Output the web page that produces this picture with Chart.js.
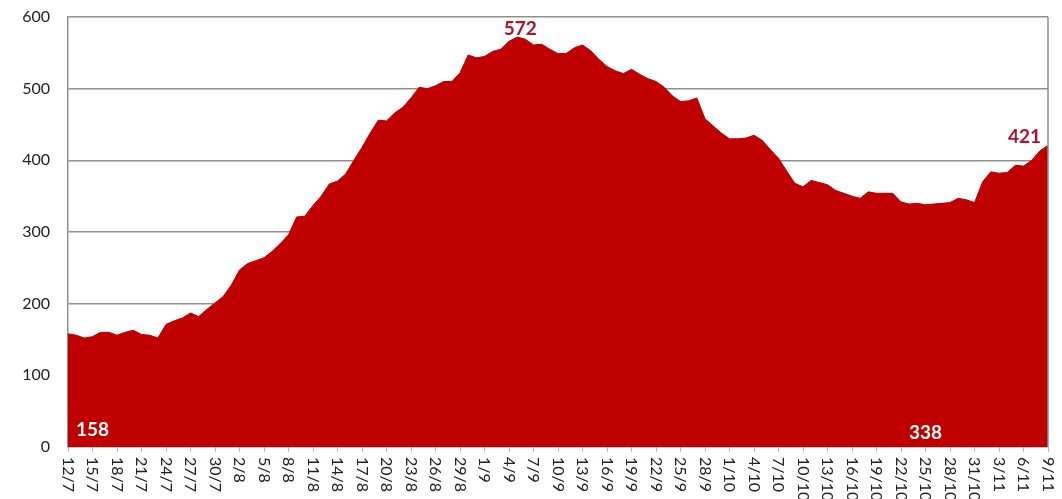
<!DOCTYPE html>
<html>
<head>
<meta charset="utf-8">
<script src="https://cdn.jsdelivr.net/npm/chart.js@4/dist/chart.umd.min.js"></script>
<style>
  html, body { margin: 0; padding: 0; background: #fff; }
  #wrap { width: 1062px; height: 499px; }
</style>
</head>
<body>
<div id="wrap"><canvas id="chart"></canvas></div>
<script>
// daily values, 12/7 .. 9/11
const days = [];
const monthDays = [[7, 12, 31], [8, 1, 31], [9, 1, 30], [10, 1, 31], [11, 1, 9]];
monthDays.forEach(([m, from, to]) => {
  for (let d = from; d <= to; d++) days.push(d + '/' + m);
});

const values = [
  158, 156, 152, 154, 160, 160, 156, 160, 163, 157,
  156, 152, 171, 176, 180, 187, 182, 192, 201, 210,
  226, 247, 256, 260, 264, 273, 284, 296, 321, 322,
  337, 350, 367, 371, 381, 400, 418, 438, 456, 455,
  466, 474, 487, 502, 500, 504, 510, 510, 522, 547,
  543, 545, 552, 555, 566, 572, 569, 561, 562, 555,
  549, 549, 557, 561, 553, 541, 531, 525, 521, 527,
  520, 514, 510, 502, 490, 482, 483, 487, 458, 448,
  438, 430, 430, 431, 435, 428, 415, 403, 385, 368,
  363, 372, 369, 366, 358, 354, 350, 347, 356, 354,
  354, 354, 342, 339, 340, 338, 339, 340, 341, 347,
  345, 341, 370, 384, 382, 383, 393, 392, 400, 413,
  421
];

const yTicks = [0, 100, 200, 300, 400, 500, 600];
const LABEL_EVERY = 3;

const RED = '#c00000';
const LABEL_RED = '#b3122b';
const GRID = '#8f8f8f';
const FONT = 'Lato, "Open Sans", sans-serif';

// labelled points: first, peak, low after the peak, last
const maxIdx = values.indexOf(Math.max(...values));
const lowAfterPeak = Math.min(...values.slice(maxIdx));
const minIdx = values.indexOf(lowAfterPeak, maxIdx);
const lastIdx = values.length - 1;

const extrasPlugin = {
  id: 'extras',
  afterDraw(chart) {
    const { ctx, chartArea: a, scales: { x, y } } = chart;
    ctx.save();

    // right border of plot area
    ctx.strokeStyle = GRID;
    ctx.lineWidth = 1.5;
    ctx.beginPath();
    ctx.moveTo(a.right, a.top);
    ctx.lineTo(a.right, a.bottom);
    ctx.stroke();

    // x labels, rotated clockwise
    ctx.fillStyle = '#222';
    ctx.font = '16px ' + FONT;
    ctx.textAlign = 'left';
    ctx.textBaseline = 'middle';
    days.forEach((d, i) => {
      if (i % LABEL_EVERY) return;
      ctx.save();
      ctx.translate(x.getPixelForValue(i), a.bottom + 10);
      ctx.rotate(Math.PI / 2);
      ctx.fillText(d, 0, 0);
      ctx.restore();
    });

    // value labels
    ctx.font = 'bold 19px ' + FONT;
    ctx.textBaseline = 'middle';

    ctx.fillStyle = '#fff';
    ctx.textAlign = 'left';
    ctx.fillText(String(values[0]), x.getPixelForValue(0) + 8, a.bottom - 17);
    ctx.textAlign = 'center';
    ctx.fillText(String(values[minIdx]), x.getPixelForValue(minIdx), a.bottom - 14);

    ctx.fillStyle = LABEL_RED;
    ctx.textAlign = 'center';
    ctx.fillText(String(values[maxIdx]), x.getPixelForValue(maxIdx) + 3, y.getPixelForValue(values[maxIdx]) - 8);
    ctx.textAlign = 'right';
    ctx.fillText(String(values[lastIdx]), x.getPixelForValue(lastIdx) - 7, y.getPixelForValue(values[lastIdx]) - 8);

    ctx.restore();
  }
};

new Chart(document.getElementById('chart'), {
  type: 'line',
  data: {
    labels: days,
    datasets: [{
      data: values,
      fill: 'origin',
      backgroundColor: RED,
      borderColor: '#b00000',
      borderWidth: 1,
      pointRadius: 0,
      tension: 0
    }]
  },
  options: {
    responsive: true,
    maintainAspectRatio: false,
    animation: false,
    layout: { padding: { top: 17, right: 14, left: 0, bottom: 0 } },
    plugins: { legend: { display: false }, tooltip: { enabled: false } },
    scales: {
      x: {
        offset: false,
        ticks: { display: false, autoSkip: false },
        grid: {
          drawOnChartArea: false,
          drawTicks: true,
          tickLength: 5,
          color: c => (c.index % LABEL_EVERY === 0 ? '#bbb' : 'transparent')
        },
        border: { display: false },
        afterFit: s => { s.height = 52; }
      },
      y: {
        min: yTicks[0],
        max: yTicks[yTicks.length - 1],
        afterBuildTicks: s => { s.ticks = yTicks.map(v => ({ value: v })); },
        ticks: {
          padding: 18,
          color: '#222',
          font: { family: FONT, size: 16 }
        },
        grid: { color: GRID, lineWidth: 1.5, drawTicks: false },
        border: { color: GRID, width: 1.5 },
        afterFit: s => { s.width = 68; s.paddingTop = 0; s.paddingBottom = 0; }
      }
    }
  },
  plugins: [extrasPlugin]
});
</script>
</body>
</html>
